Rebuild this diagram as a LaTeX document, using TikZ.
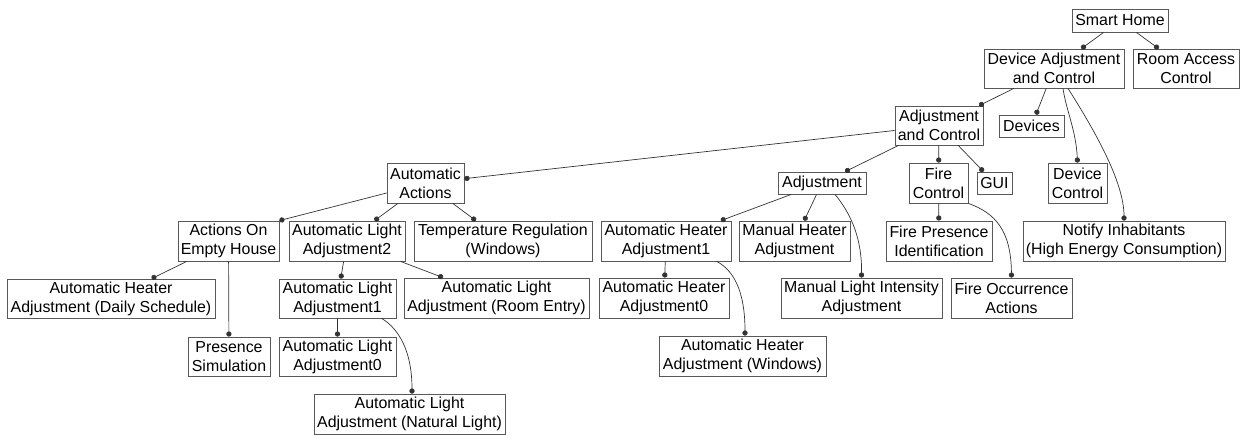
\documentclass[tikz,border=0pt]{standalone}
\usepackage{fontspec}
\setmainfont{Liberation Sans}
\usetikzlibrary{arrows.meta}

\begin{document}
\begin{tikzpicture}[
  x=1pt, y=-1pt,
  feature/.style={draw=black!65, line width=0.8pt, fill=white, inner sep=0pt,
    align=center, font=\fontsize{15.9pt}{18.8pt}\selectfont},
  twoline/.style={feature, minimum height=40pt},
  oneline/.style={feature, minimum height=22pt},
  featlink/.style={draw=black!80, line width=0.7pt, -{Circle[length=5.2pt]}}
]
\useasboundingbox (0,0) rectangle (1243,437);

% ---- features ----
\node[oneline, minimum width=96pt, minimum height=23pt] (sh) at (1120,20.5) {Smart Home};
\node[twoline, minimum width=140pt, minimum height=39pt] (dac) at (1054,68.5) {Device Adjustment\\and Control};
\node[twoline, minimum width=106pt, minimum height=39pt] (rac) at (1186,68.5) {Room Access\\Control};

\node[twoline, minimum width=88pt, minimum height=39pt] (ac) at (939,125.5) {Adjustment\\and Control};
\node[oneline, minimum width=65pt] (dev) at (1031.5,126) {Devices};

\node[twoline, minimum width=77pt] (aa) at (425.5,183) {Automatic\\Actions};
\node[oneline, minimum width=88pt] (adj) at (822,183) {Adjustment};
\node[twoline, minimum width=59pt] (fc) at (938.5,183) {Fire\\Control};
\node[oneline, minimum width=35pt] (gui) at (994.5,183) {GUI};
\node[twoline, minimum width=59pt] (dc) at (1077.5,183) {Device\\Control};

\node[twoline, minimum width=101pt] (aoeh) at (228.5,241) {Actions On\\Empty House};
\node[twoline, minimum width=116pt] (ala2) at (347,241) {Automatic Light\\Adjustment2};
\node[twoline, minimum width=178pt] (tr) at (503,241) {Temperature Regulation\\(Windows)};
\node[twoline, minimum width=130pt] (aha1) at (666,241) {Automatic Heater\\Adjustment1};
\node[twoline, minimum width=111pt] (mha) at (794.5,241) {Manual Heater\\Adjustment};
\node[twoline, minimum width=106pt] (fpi) at (939,241) {Fire Presence\\Identification};
\node[twoline, minimum width=202pt] (notify) at (1124,241) {Notify Inhabitants\\(High Energy Consumption)};

\node[twoline, minimum width=208pt, minimum height=39pt] (ahads) at (111,298.5) {Automatic Heater\\Adjustment (Daily Schedule)};
\node[twoline, minimum width=117pt, minimum height=39pt] (ala1) at (337.5,298.5) {Automatic Light\\Adjustment1};
\node[twoline, minimum width=185pt] (alare) at (496.5,298) {Automatic Light\\Adjustment (Room Entry)};
\node[twoline, minimum width=130pt] (aha0) at (664,298) {Automatic Heater\\Adjustment0};
\node[twoline, minimum width=161pt] (mlia) at (861.5,298) {Manual Light Intensity\\Adjustment};
\node[twoline, minimum width=121pt] (foa) at (1011.5,298) {Fire Occurrence\\Actions};

\node[twoline, minimum width=82pt, minimum height=39pt] (ps) at (229,356.5) {Presence\\Simulation};
\node[twoline, minimum width=117pt, minimum height=39pt] (ala0) at (337.5,356.5) {Automatic Light\\Adjustment0};
\node[twoline, minimum width=167pt] (ahaw) at (742.5,356) {Automatic Heater\\Adjustment (Windows)};

\node[twoline, minimum width=191pt] (alanl) at (409.5,414) {Automatic Light\\Adjustment (Natural Light)};

% ---- straight connections ----
\draw[featlink] (sh) -- (dac);
\draw[featlink] (sh) -- (rac);
\draw[featlink] (dac) -- (ac);
\draw[featlink] (dac) -- (dev);
\draw[featlink] (ac) -- (aa);
\draw[featlink] (ac) -- (adj);
\draw[featlink] (ac) -- (fc);
\draw[featlink] (ac) -- (gui);
\draw[featlink] (aa) -- (aoeh.north east);
\draw[featlink] (aa) -- (ala2);
\draw[featlink] (aa) -- (tr);
\draw[featlink] (aoeh) -- (ahads);
\draw[featlink] (aoeh) -- (ps);
\draw[featlink] (ala2) -- (ala1);
\draw[featlink] (ala2) -- (alare);
\draw[featlink] (ala1) -- (ala0);
\draw[featlink] (adj) -- (aha1);
\draw[featlink] (adj) -- (mha);
\draw[featlink] (aha1) -- (aha0);
\draw[featlink] (fc) -- (fpi);

% ---- curved connections ----
\draw[featlink] ([xshift=9pt]dac.south) .. controls (1066,110) and (1076,130) .. (dc.north);
\draw[featlink] ([xshift=14pt]dac.south) .. controls (1093,128) and (1124,181) .. (notify.north);
\draw[featlink] ([xshift=13pt]adj.south) .. controls (852,215) and (862,240) .. (mlia.north);
\draw[featlink] (fc.south east) .. controls (995,213) and (1011,230) .. (foa.north);
\draw[featlink] ([xshift=50.7pt]aha1.south) .. controls (733,270) and (745,290) .. ([xshift=2.5pt]ahaw.north);
\draw[featlink] ([xshift=44pt]ala1.south) .. controls (398,328) and (412,350) .. ([xshift=2.5pt]alanl.north);
\end{tikzpicture}
\end{document}
